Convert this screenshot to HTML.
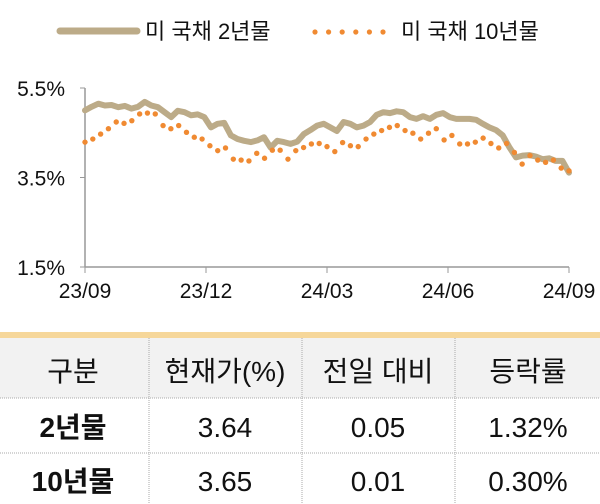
<!DOCTYPE html>
<html><head><meta charset="utf-8"><style>
body{margin:0;width:600px;height:504px;background:#fff;overflow:hidden;font-family:"Liberation Sans","Noto Sans CJK KR",sans-serif;}
svg{position:absolute;left:0;top:0}
</style></head><body>
<svg width="600" height="504">
<g>
<line x1="60" y1="31" x2="137" y2="31" stroke="#bcab88" stroke-width="7" stroke-linecap="round"/>
<text x="145" y="39" font-size="22" fill="#111">미 국채 2년물</text>
<g id="legdots"></g>
<text x="401" y="39" font-size="22" fill="#111">미 국채 10년물</text>
</g>
<g id="axes"></g>
<g id="series"></g>
<g>
<rect x="0" y="332" width="600" height="6" fill="#f6d79a"/>
<rect x="0" y="338" width="600" height="60" fill="#f2f2f2"/>
<line x1="0" y1="398" x2="600" y2="398" stroke="#aaa" stroke-dasharray="1,1"/>
<line x1="0" y1="453" x2="600" y2="453" stroke="#aaa" stroke-dasharray="1,1"/>
<line x1="149" y1="338" x2="149" y2="504" stroke="#aaa" stroke-dasharray="1,1"/>
<line x1="302" y1="338" x2="302" y2="504" stroke="#aaa" stroke-dasharray="1,1"/>
<line x1="455" y1="338" x2="455" y2="504" stroke="#aaa" stroke-dasharray="1,1"/>
<g font-size="28" fill="#111" text-anchor="middle">
<text x="73" y="381">구분</text>
<text x="225" y="381">현재가(%)</text>
<text x="378" y="381">전일 대비</text>
<text x="528" y="381">등락률</text>
<text x="73" y="437" font-weight="bold">2년물</text>
<text x="225" y="437">3.64</text>
<text x="378" y="437">0.05</text>
<text x="528" y="437">1.32%</text>
<text x="73" y="491" font-weight="bold">10년물</text>
<text x="225" y="491">3.65</text>
<text x="378" y="491">0.01</text>
<text x="528" y="491">0.30%</text>
</g></g>
</svg>
<script>
const yTicks=[5.5,3.5,1.5];
const yTickLabels=["5.5%","3.5%","1.5%"];
const xTickLabels=["23/09","23/12","24/03","24/06","24/09"];
const y2=[5.00,5.08,5.15,5.11,5.12,5.07,5.10,5.04,5.08,5.19,5.11,5.07,4.96,4.85,4.99,4.96,4.89,4.91,4.85,4.62,4.70,4.72,4.44,4.36,4.32,4.29,4.33,4.40,4.17,4.32,4.29,4.25,4.30,4.47,4.56,4.66,4.70,4.62,4.54,4.74,4.70,4.62,4.66,4.74,4.90,4.96,4.94,4.98,4.96,4.85,4.81,4.87,4.81,4.90,4.94,4.85,4.81,4.81,4.81,4.79,4.70,4.62,4.56,4.44,4.18,3.95,3.99,4.00,3.97,3.91,3.93,3.87,3.87,3.61];
const y10=[4.29,4.36,4.47,4.59,4.74,4.71,4.77,4.92,4.94,4.92,4.66,4.59,4.66,4.51,4.40,4.36,4.21,4.10,4.16,3.91,3.89,3.87,4.04,3.93,4.11,4.11,3.91,4.10,4.17,4.25,4.26,4.19,4.08,4.28,4.21,4.19,4.36,4.47,4.55,4.62,4.66,4.55,4.49,4.36,4.49,4.59,4.34,4.44,4.25,4.25,4.29,4.38,4.26,4.16,4.26,4.06,3.80,3.99,3.89,3.84,3.89,3.71,3.65];
const NS="http://www.w3.org/2000/svg";
const X0=85,X1=569,Y0=88,Y1=267;
const yS=v=>Y0+(5.5-v)/(5.5-1.5)*(Y1-Y0);
const xS=(i,n)=>X0+i/(n-1)*(X1-X0);
function mk(t,a,p){const e=document.createElementNS(NS,t);for(const k in a)e.setAttribute(k,a[k]);p.appendChild(e);return e;}
const ax=document.getElementById('axes');
let l=mk('line',{x1:X0,y1:Y0,x2:X0,y2:Y1,stroke:'#999','stroke-width':1.5},ax);


l=mk('line',{x1:X0,y1:Y1,x2:X1,y2:Y1,stroke:'#999','stroke-width':1.5},ax);


yTicks.forEach((v,i)=>{mk('line',{x1:X0-5,y1:yS(v),x2:X0,y2:yS(v),stroke:'#999'},ax);
const t=mk('text',{x:X0-20,y:yS(v)+8,'font-size':21,'text-anchor':'end',fill:'#111'},ax);t.textContent=yTickLabels[i];

});
xTickLabels.forEach((s,i)=>{const x=xS(i,xTickLabels.length);mk('line',{x1:x,y1:Y1,x2:x,y2:Y1+6,stroke:'#999'},ax);
const t=mk('text',{x:x,y:Y1+31,'font-size':21,'text-anchor':'middle',fill:'#111'},ax);t.textContent=s;

});
const se=document.getElementById('series');
let d=y2.map((v,i)=>(i?'L':'M')+xS(i,y2.length).toFixed(1)+','+yS(v).toFixed(1)).join('');
const p=mk('path',{d:d,fill:'none',stroke:'#bcab88','stroke-width':6,'stroke-linejoin':'round','stroke-linecap':'round'},se);


y10.forEach((v,i)=>{const c=mk('circle',{cx:xS(i,y10.length),cy:yS(v),r:2.7,fill:'#f08a32'},se);

});
const lg=document.getElementById('legdots');
for(let i=0;i<6;i++){mk('circle',{cx:315+i*13.6,cy:32,r:2.6,fill:'#f08a32'},lg);}
</script>
</body></html>
